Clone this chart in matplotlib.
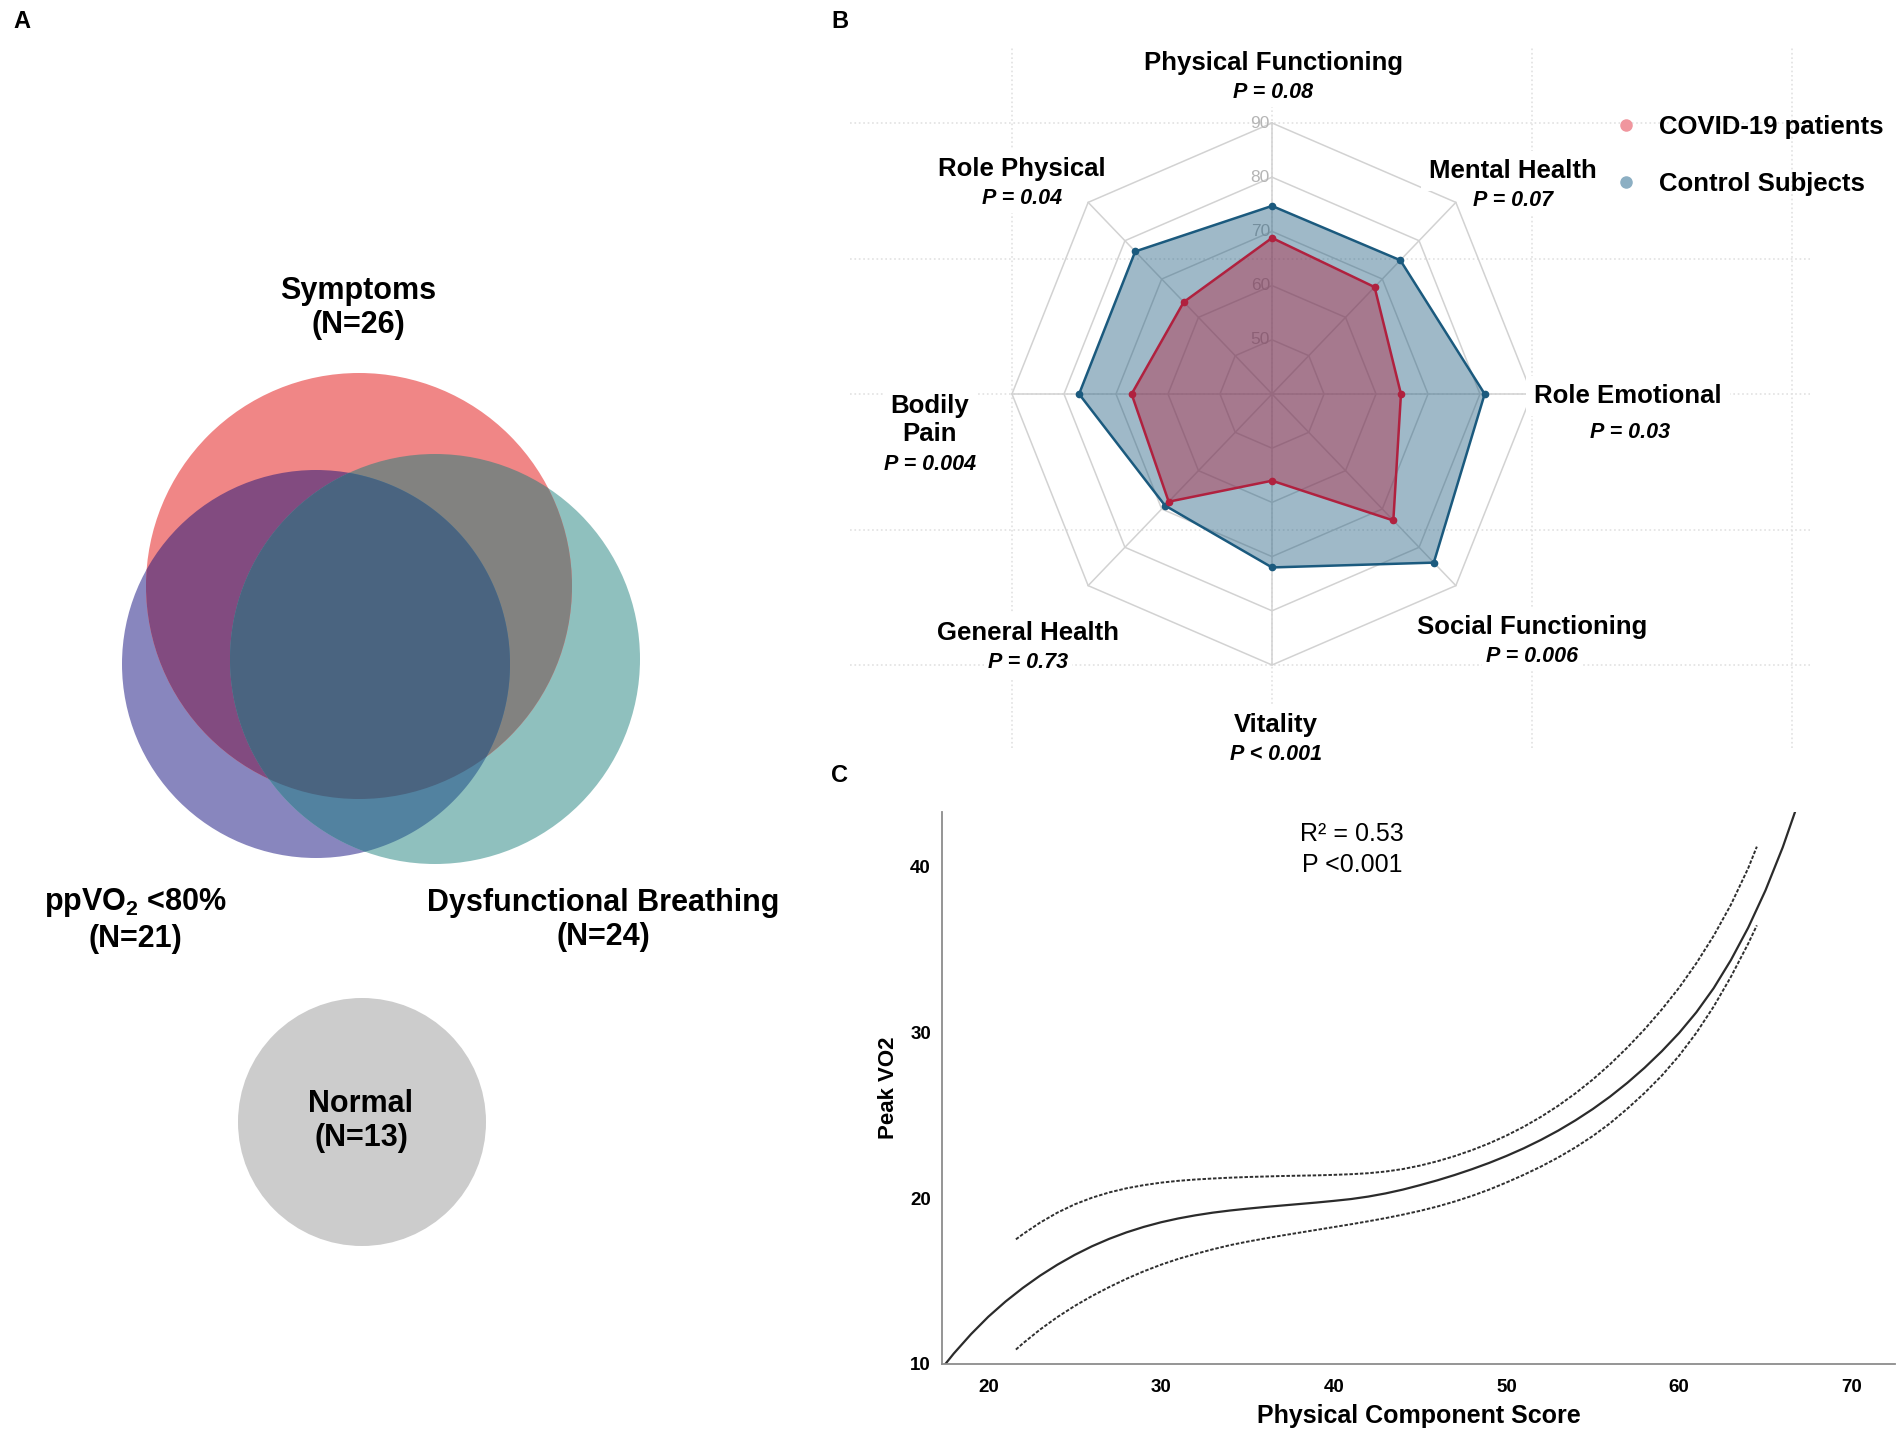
import numpy as np
import matplotlib
matplotlib.use('Agg')
import matplotlib.pyplot as plt
from matplotlib.patches import Circle, Polygon
from matplotlib.lines import Line2D
from matplotlib import font_manager

W, H = 1902, 1439

# panel A - venn labels
venn_labels = ['Symptoms\n(N=26)', 'ppVO$_\\mathbf{2}$ <80%\n(N=21)',
               'Dysfunctional Breathing\n(N=24)', 'Normal\n(N=13)']

# panel B - SF-36 domains, clockwise from the top
domains = ['Physical Functioning', 'Mental Health', 'Role Emotional', 'Social Functioning',
           'Vitality', 'General Health', 'Bodily\nPain', 'Role Physical']
p_vals = ['P = 0.08', 'P = 0.07', 'P = 0.03', 'P = 0.006',
          'P < 0.001', 'P = 0.73', 'P = 0.004', 'P = 0.04']
covid = [68.8, 67.9, 64.8, 73.0, 56.0, 68.1, 67.0, 64.0]
control = [74.7, 74.9, 80.9, 84.0, 72.0, 69.1, 77.1, 77.2]
ring_levels = [50, 60, 70, 80, 90]
series_names = ['COVID-19 patients', 'Control Subjects']

# panel C - cubic fit with 95% CI
pcs_fit = [17, 18, 19, 20, 21, 22, 23, 24, 25, 26, 27, 28, 29, 30, 31, 32, 33, 34,
           35, 36, 37, 38, 39, 40, 41, 42, 43, 44, 45, 46, 47, 48, 49, 50, 51, 52,
           53, 54, 55, 56, 57, 58, 59, 60, 61, 62, 63, 64, 65, 66, 67]
vo2_fit = [9.33, 10.63, 11.80, 12.85, 13.77, 14.59, 15.33, 15.99, 16.58, 17.10,
           17.55, 17.94, 18.27, 18.55, 18.78, 18.97, 19.13, 19.26, 19.37, 19.47,
           19.56, 19.65, 19.74, 19.84, 19.95, 20.10, 20.29, 20.52, 20.79, 21.08,
           21.40, 21.75, 22.13, 22.55, 23.01, 23.52, 24.08, 24.70, 25.38, 26.13,
           26.96, 27.87, 28.87, 29.97, 31.22, 32.67, 34.37, 36.32, 38.57, 41.17, 44.17]
pcs_ci = [21.6, 22, 23, 24, 25, 26, 27, 28, 29, 30, 31, 32, 33, 34, 35, 36, 37, 38,
          39, 40, 41, 42, 43, 44, 45, 46, 47, 48, 49, 50, 51, 52, 53, 54, 55, 56,
          57, 58, 59, 60, 61, 62, 63, 64, 64.5]
vo2_upper = [17.52, 17.83, 18.53, 19.13, 19.63, 20.03, 20.35, 20.60, 20.79, 20.94,
             21.05, 21.13, 21.19, 21.24, 21.28, 21.31, 21.34, 21.36, 21.38, 21.41,
             21.45, 21.51, 21.61, 21.76, 21.97, 22.23, 22.54, 22.90, 23.31, 23.78,
             24.31, 24.91, 25.58, 26.33, 27.16, 28.08, 29.09, 30.19, 31.39, 32.70,
             34.18, 35.83, 37.71, 39.91, 41.21]
vo2_lower = [10.87, 11.24, 12.08, 12.83, 13.50, 14.10, 14.64, 15.14, 15.59, 15.99,
             16.34, 16.64, 16.92, 17.17, 17.38, 17.57, 17.75, 17.92, 18.09, 18.26,
             18.43, 18.61, 18.80, 19.01, 19.24, 19.50, 19.80, 20.14, 20.52, 20.95,
             21.41, 21.91, 22.46, 23.07, 23.75, 24.52, 25.40, 26.35, 27.40, 28.60,
             29.98, 31.56, 33.36, 35.36, 36.46]

names = {f.name for f in font_manager.fontManager.ttflist}
narrow = 'Liberation Sans Narrow' if 'Liberation Sans Narrow' in names else 'Liberation Sans'

plt.rcParams['font.family'] = ['Liberation Sans', 'DejaVu Sans']
plt.rcParams['mathtext.fontset'] = 'custom'
plt.rcParams['mathtext.rm'] = 'Liberation Sans'
plt.rcParams['mathtext.bf'] = 'Liberation Sans:bold'

fig = plt.figure(figsize=(W / 100, H / 100), dpi=100)


def px(x, y):
    return x / W, 1 - y / H


def lens(c1, r1, c2, r2, n=300):
    d = np.hypot(c2[0] - c1[0], c2[1] - c1[1])
    base = np.arctan2(c2[1] - c1[1], c2[0] - c1[0])
    a1 = np.arccos((d ** 2 + r1 ** 2 - r2 ** 2) / (2 * d * r1))
    a2 = np.arccos((d ** 2 + r2 ** 2 - r1 ** 2) / (2 * d * r2))
    t1 = np.linspace(base - a1, base + a1, n)
    t2 = np.linspace(base + np.pi - a2, base + np.pi + a2, n)
    p1 = np.c_[c1[0] + r1 * np.cos(t1), c1[1] + r1 * np.sin(t1)]
    p2 = np.c_[c2[0] + r2 * np.cos(t2), c2[1] + r2 * np.sin(t2)]
    return np.vstack([p1, p2])


# ---------------- A: venn ----------------
axA = fig.add_axes([0, 0, 1, 1])
axA.set_xlim(0, W)
axA.set_ylim(H, 0)
axA.axis('off')

red_c, red_r = (359, 586), 213
pur_c, pur_r = (316, 664), 194
teal_c, teal_r = (435, 659), 205

red = Circle(red_c, red_r, fc='#F08686', ec='none')
pur = Circle(pur_c, pur_r, fc='#8886BE', ec='none')
teal = Circle(teal_c, teal_r, fc='#8FC0BE', ec='none')
for p in (pur, teal, red):
    axA.add_patch(p)

rp = Circle(pur_c, pur_r, fc='#824B80', ec='none')
axA.add_patch(rp)
rp.set_clip_path(red)
rt = Circle(teal_c, teal_r, fc='#828280', ec='none')
axA.add_patch(rt)
rt.set_clip_path(red)
pt_pts = lens(pur_c, pur_r, teal_c, teal_r)
pt = Polygon(pt_pts, closed=True, fc='#5282A0', ec='none')
axA.add_patch(pt)
tri = Polygon(pt_pts, closed=True, fc='#4A6480', ec='none')
axA.add_patch(tri)
tri.set_clip_path(red)

axA.add_patch(Circle((362, 1122), 124, fc='#CCCCCC', ec='none'))

venn_pos = [(358, 308), (135, 920), (603, 920), (361, 1121)]
for lab, (x, y) in zip(venn_labels, venn_pos):
    fig.text(*px(x, y), lab, ha='center', va='center', fontsize=22,
             fontweight='bold', linespacing=1.2)

# ---------------- B: radar ----------------
cx, cy = 1272, 394
sx, sy = 5.2, 5.42
r0 = 40
axB = fig.add_axes([850 / W, 1 - 748 / H, 960 / W, 701 / H])
axB.set_xlim((850 - cx) / sx, (1810 - cx) / sx)
axB.set_ylim((cy - 748) / sy, (cy - 47) / sy)
axB.axis('off')

for gx in [-50, 0, 50, 100]:
    axB.axvline(gx, ls=':', color='#e2e2e2', lw=1.2, zorder=0)
for gy in [-50, -25, 0, 25, 50]:
    axB.axhline(gy, ls=':', color='#e2e2e2', lw=1.2, zorder=0)

phi = np.deg2rad(np.arange(len(domains)) * 360 / len(domains))
rmax = ring_levels[-1] - r0
for lvl in ring_levels:
    r = lvl - r0
    xs = np.r_[r * np.sin(phi), 0]
    ys = np.r_[r * np.cos(phi), r]
    axB.plot(xs, ys, color='#d2d2d2', lw=1.1, zorder=1)
    axB.text(-0.4, r, str(lvl), ha='right', va='center', fontsize=12.5,
             color='#b5b5b5', family=narrow, zorder=1)
for a in phi:
    axB.plot([0, rmax * np.sin(a)], [0, rmax * np.cos(a)], color='#d2d2d2', lw=1.1, zorder=1)

for vals, col in [(control, '#1B5A7E'), (covid, '#B0213F')]:
    r = np.array(vals) - r0
    xs = np.r_[r * np.sin(phi), 0]
    ys = np.r_[r * np.cos(phi), r[0]]
    axB.fill(xs, ys, color=col, alpha=0.42, lw=0, zorder=2)
    axB.plot(xs, ys, color=col, lw=1.8, zorder=3)
    axB.plot(xs[:-1], ys[:-1], 'o', color=col, ms=4.5, zorder=4)

lab_pos = [(1273, 63), (1513, 171), (1628, 396), (1532, 627),
           (1276, 725), (1028, 633), (930, 420), (1022, 169)]
p_pos = [(1273, 92), (1513, 201), (1630, 433), (1532, 656),
         (1276, 755), (1028, 663), (930, 465), (1022, 198)]
box = dict(boxstyle='square,pad=0.3', fc='white', ec='none')
for lab, pv, (x, y), (x2, y2) in zip(domains, p_vals, lab_pos, p_pos):
    fig.text(*px(x, y), lab, ha='center', va='center', fontsize=18.5, fontweight='bold',
             linespacing=1.25, bbox=box, zorder=5)
    fig.text(*px(x2, y2), pv, ha='center', va='center', fontsize=15.5, fontweight='bold',
             fontstyle='italic', bbox=dict(boxstyle='square,pad=0.2', fc='white', ec='none'),
             zorder=5)

handles = [Line2D([], [], ls='none', marker='o', ms=8, color='#F0969E'),
           Line2D([], [], ls='none', marker='o', ms=8, color='#8CAFC3')]
axB.legend(handles, series_names, loc='upper left', bbox_to_anchor=px(1618, 115),
           bbox_transform=fig.transFigure, frameon=False, borderpad=0, borderaxespad=0,
           handlelength=0.6, handletextpad=1.0, labelspacing=1.3,
           prop=dict(size=18.5, weight='bold'))

# ---------------- C: curve fit ----------------
axC = fig.add_axes([942 / W, 1 - 1364 / H, (1895 - 942) / W, (1364 - 812) / H])
axC.plot(pcs_fit, vo2_fit, color='#2b2b2b', lw=1.6)
axC.plot(pcs_ci, vo2_upper, color='#2f2f2f', lw=1.4, ls=(0, (1.8, 0.9)))
axC.plot(pcs_ci, vo2_lower, color='#2f2f2f', lw=1.4, ls=(0, (1.8, 0.9)))
axC.set_xlim(17.32, 72.5)
axC.set_ylim(10, 43.3)
axC.set_xticks([20, 30, 40, 50, 60, 70])
axC.set_yticks([10, 20, 30, 40])
axC.tick_params(length=0, labelsize=13.5)
axC.tick_params(axis='x', pad=11)
axC.tick_params(axis='y', pad=8)
for t in axC.get_xticklabels() + axC.get_yticklabels():
    t.set_fontweight('bold')
    t.set_family(narrow)
for s in ['top', 'right']:
    axC.spines[s].set_visible(False)
for s in ['left', 'bottom']:
    axC.spines[s].set_color('#8c8c8c')
    axC.spines[s].set_linewidth(1.3)
axC.set_xlabel('Physical Component Score', fontsize=18, fontweight='bold')
axC.xaxis.set_label_coords(0.5, -0.072)
axC.set_ylabel('Peak VO2', fontsize=16, fontweight='bold')
axC.yaxis.set_label_coords(-0.045, 0.5)
axC.text(0.43, 0.932, 'R² = 0.53\nP <0.001', transform=axC.transAxes, ha='center',
         va='center', fontsize=18, fontweight='medium', linespacing=1.4)

for letter, (x, y) in zip('ABC', [(22, 22), (840, 22), (840, 776)]):
    fig.text(*px(x, y), letter, ha='center', va='center', fontsize=17, fontweight='bold')

fig.savefig('out.png', dpi=100)
